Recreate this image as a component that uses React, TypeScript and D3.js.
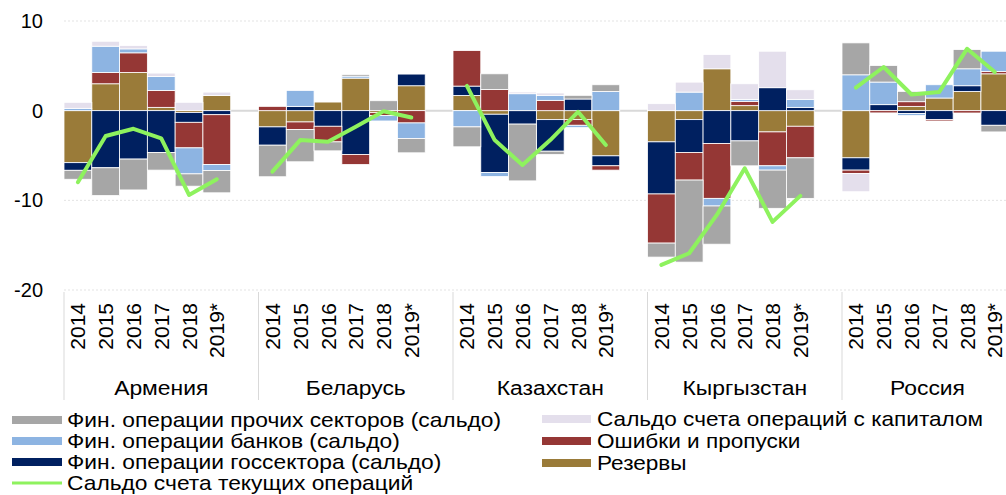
import React from 'react';
import * as d3 from 'd3';

const countries = ['Армения', 'Беларусь', 'Казахстан', 'Кыргызстан', 'Россия'];
const years = ['2014', '2015', '2016', '2017', '2018', '2019*'];
const yTicks = [10, 0, -10, -20];

// values per country (rows) and year (columns)
const reserves = [
  [-5.8, 3.0, 4.26, 0.37, -0.2, 1.7],
  [-1.81, -1.26, 0.96, 3.63, -0.2, 2.78],
  [1.7, -0.4, 0, -1.0, -1.0, -5.04],
  [-3.48, -1.0, 4.67, 0.56, -2.37, -1.74],
  [-5.26, 0, 0.48, 1.41, 2.15, 4.11],
];
const govSector = [
  [-0.85, -6.37, -5.4, -4.67, -1.1, -0.45],
  [-2.04, 0.48, -1.74, -4.89, 0, 1.3],
  [1.04, -6.5, -1.5, -3.52, 1.3, -1.11],
  [-5.81, -3.67, -3.67, -3.37, 2.56, 0.37],
  [-1.37, 0.67, -0.33, -1.0, 0.63, -1.63],
];
const errors = [
  [0, 1.26, 2.19, 1.89, -2.85, -5.56],
  [0.48, -0.85, -1.74, -1.11, -0.35, -1.37],
  [3.96, 2.37, 0, 1.15, -0.63, -0.48],
  [-5.48, -3.07, -6.11, 0.48, -3.78, -3.52],
  [-0.37, -0.25, 0.52, -0.15, -0.26, 0.26],
];
const banks = [
  [0.26, 2.93, 0.44, 1.56, -2.9, -0.67],
  [0, 1.78, 0, 0.22, -0.6, -1.74],
  [-1.81, -0.44, 1.89, 0.56, -0.26, 2.15],
  [0, 2.07, -0.85, 0.22, -0.48, 0.89],
  [4.0, 2.52, -0.22, 1.48, 1.89, 2.26],
];
const otherSectors = [
  [-1.0, -3.1, -3.44, -1.96, -1.37, -2.48],
  [-3.52, -3.59, -1.0, 0.19, 1.11, -1.59],
  [-2.22, 1.74, -6.33, -0.37, 0.41, 0.74],
  [-1.56, -9.15, -4.26, -2.78, -4.26, -4.52],
  [3.56, 1.85, 1.15, 0, 2.15, -0.74],
];
const capital = [
  [0.67, 0.55, 0.37, 0.37, 0.93, 0.37],
  [0, 0, 0, 0, 0, 0],
  [0, 0, 0.19, 0.26, 0, 0],
  [0.78, 1.11, 1.59, 1.74, 4.07, 1.07],
  [-2.04, 0, 0, 0, 0, 0],
];
const currentAccount = [
  [-7.98, -2.83, -2.02, -3.09, -9.4, -7.65],
  [-6.8, -3.28, -3.46, -1.8, -0.06, -0.76],
  [2.76, -3.28, -6.06, -3.28, -0.13, -3.83],
  [-17.2, -15.9, -11.6, -6.43, -12.4, -9.5],
  [2.57, 4.87, 1.8, 2.09, 6.9, 4.31],
];

const seriesKeys = ['reserves', 'gov', 'errors', 'banks', 'others', 'capital'];
const seriesData: Record<string, number[][]> = {
  reserves, gov: govSector, errors, banks, others: otherSectors, capital,
};
const colors: Record<string, string> = {
  others: '#a6a6a6',
  banks: '#8db4e2',
  gov: '#002060',
  errors: '#953735',
  reserves: '#9a7b39',
  capital: '#e4dfec',
  line: '#8ef25e',
};

const legendCol1 = [
  { key: 'others', label: 'Фин. операции прочих секторов (сальдо)' },
  { key: 'banks', label: 'Фин. операции банков (сальдо)' },
  { key: 'gov', label: 'Фин. операции госсектора (сальдо)' },
  { key: 'line', label: 'Сальдо счета текущих операций' },
];
const legendCol2 = [
  { key: 'capital', label: 'Сальдо счета операций с капиталом' },
  { key: 'errors', label: 'Ошибки и пропуски' },
  { key: 'reserves', label: 'Резервы' },
];

const W = 1006;
const H = 495;
const FONT = '"Liberation Sans", Arial, sans-serif';

export default function App() {
  const plotLeft = 64;
  const plotRight = 1013;
  const groupW = 194.5;
  const gx = d3.scaleBand<string>().domain(countries).range([plotLeft, plotLeft + groupW * countries.length]).padding(0);
  const slots = [...years, ''];
  const sx = d3.scaleBand<string>().domain(slots).range([0, gx.bandwidth()]).padding(0);
  const y = d3.scaleLinear().domain([-20, 10]).range([290, 21]);

  const rows: any[] = [];
  countries.forEach((c, ci) => {
    years.forEach((yr, yi) => {
      const r: any = { country: c, year: yr };
      seriesKeys.forEach((k) => { r[k] = seriesData[k][ci][yi]; });
      rows.push(r);
    });
  });
  const stacked = d3.stack<any>().keys(seriesKeys).offset(d3.stackOffsetDiverging)(rows);

  const cx = (c: string, yr: string) => (gx(c) as number) + (sx(yr) as number) + sx.bandwidth() / 2;
  const labelX = (c: string) => {
    const a = gx(c) as number;
    const b = Math.min(a + gx.bandwidth(), plotRight);
    return (a + b) / 2;
  };

  return (
    <svg width={W} height={H} style={{ position: 'absolute', left: 0, top: 0, background: '#fff' }} fontFamily={FONT}>
      {/* grid */}
      {yTicks.filter((t) => t !== 0).map((t) => (
        <line key={t} x1={plotLeft} x2={W} y1={y(t)} y2={y(t)} stroke="#e3e3e3" strokeWidth={1} strokeDasharray="2,2" />
      ))}
      <line x1={plotLeft} x2={W} y1={y(0)} y2={y(0)} stroke="#d9d9d9" strokeWidth={2} />
      {/* y labels */}
      {yTicks.map((t) => (
        <text key={t} x={43} y={y(t)} dy="0.35em" textAnchor="end" fontSize={20} fill="#000">{t}</text>
      ))}
      {/* bars */}
      {stacked.map((s) => (
        <g key={s.key} fill={colors[s.key]}>
          {s.map((d, i) => {
            const v0 = d[0], v1 = d[1];
            if (Math.abs(v1 - v0) < 1e-9) return null;
            const r = d.data;
            return (
              <rect key={i}
                x={(gx(r.country) as number) + (sx(r.year) as number)}
                width={sx.bandwidth()}
                y={y(Math.max(v0, v1))}
                height={Math.abs(y(v0) - y(v1))}
                stroke="#fff" strokeWidth={0.8} />
            );
          })}
        </g>
      ))}
      {/* current account lines */}
      {countries.map((c, ci) => {
        const pts = years.map((yr, yi) => [cx(c, yr), y(currentAccount[ci][yi])] as [number, number]);
        const path = d3.line()(pts);
        return <path key={c} d={path || ''} fill="none" stroke={colors.line} strokeWidth={4} strokeLinejoin="round" strokeLinecap="round" />;
      })}
      {/* category axis */}
      {countries.map((c) => (
        <line key={c} x1={gx(c)} x2={gx(c)} y1={292} y2={400} stroke="#d9d9d9" strokeWidth={1} />
      ))}
      {countries.map((c) => years.map((yr) => (
        <text key={c + yr} transform={`translate(${cx(c, yr)},303) rotate(-90)`} textAnchor="end" dy="0.36em" fontSize={21} fill="#000">{yr}</text>
      )))}
      {countries.map((c) => (
        <text key={c} transform={`translate(${labelX(c)},395) scale(1.09,1)`} textAnchor="middle" fontSize={21} fill="#000">{c}</text>
      ))}
      {/* legend */}
      {legendCol1.map((l, i) => {
        const ly = 420 + i * 21;
        return (
          <g key={l.key}>
            {l.key === 'line'
              ? <line x1={12} x2={62} y1={ly} y2={ly} stroke={colors.line} strokeWidth={3} />
              : <rect x={12} y={ly - 4} width={50} height={8} fill={colors[l.key]} />}
            <text transform={`translate(67,${ly}) scale(1.14,1)`} dy="0.35em" fontSize={20} fill="#000">{l.label}</text>
          </g>
        );
      })}
      {legendCol2.map((l, i) => {
        const ly = 419 + i * 22;
        return (
          <g key={l.key}>
            <rect x={542} y={ly - 4} width={49} height={8} fill={colors[l.key]} />
            <text transform={`translate(597,${ly}) scale(1.13,1)`} dy="0.35em" fontSize={20} fill="#000">{l.label}</text>
          </g>
        );
      })}
    </svg>
  );
}
